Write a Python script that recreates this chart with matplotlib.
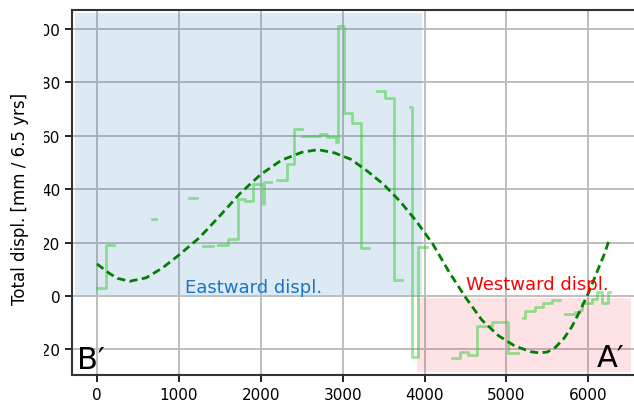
import numpy as np
import matplotlib
matplotlib.use("Agg")
import matplotlib.pyplot as plt
from matplotlib.patches import Rectangle

# step profile: each segment is (edges, levels), len(edges) = len(levels) + 1
seg_edges = [
    [0, 106, 211],
    [668, 716],
    [1127, 1225],
    [1298, 1420],
    [1481, 1603, 1718, 1810, 1908, 2023, 2035, 2120],
    [2201, 2316, 2409, 2499],
    [2507, 2723, 2812, 2925, 2940, 3016, 3117, 3220, 3325],
    [3415, 3516, 3623, 3728],
    [3822, 3850, 3923, 4033],
    [4331, 4432, 4534, 4636, 4819, 5022, 5137],
    [5205, 5226, 5348, 5450, 5552, 5653],
    [5714, 5836, 5897, 5926, 6040, 6101, 6162, 6243, 6260],
]
seg_levels = [
    [2.9, 19.2],
    [29.0],
    [36.6],
    [18.8],
    [19.2, 21.3, 36.4, 35.7, 41.9, 34.5, 42.6],
    [43.4, 49.4, 62.5],
    [59.8, 60.7, 59.4, 57.8, 101.0, 68.5, 64.9, 18.0],
    [76.7, 74.0, 6.1],
    [70.9, -23.0, 18.5],
    [-23.3, -20.9, -22.1, -11.2, -9.6, -21.2],
    [-8.4, -5.6, -4.0, -2.7, -1.6],
    [-6.9, -5.9, -5.4, -2.5, -1.2, 1.5, -2.5, 1.6],
]

# smooth trend along the profile
trend_x = [0, 150, 250, 400, 600, 800, 1000, 1250, 1500, 1750, 2000, 2250,
           2500, 2700, 2900, 3100, 3300, 3500, 3700, 3900, 4100, 4300, 4500,
           4700, 4900, 5100, 5300, 5400, 5500, 5600, 5700, 5800, 5900, 6000,
           6100, 6200, 6255]
trend_y = [12.0, 8.5, 6.6, 5.5, 6.8, 10.5, 15.3, 21.8, 30.0, 38.5, 45.5, 50.8,
           53.8, 54.8, 53.6, 51.2, 46.8, 41.8, 35.5, 28.0, 19.5, 9.0, -0.5,
           -9.0, -14.8, -18.7, -20.9, -21.3, -21.0, -19.2, -16.0, -11.5, -5.5, 1.0,
           8.5, 16.0, 21.0]

fig = plt.figure(figsize=(6.34, 4.06), dpi=100)
W, H = 634, 406
ax = fig.add_axes([72 / W, (H - 376) / H, (637 - 72) / W, (376 - 11) / H])
ax.set_xlim(-305, 6595)
ax.set_ylim(-29.6, 107.1)

ax.set_axisbelow(True)
ax.grid(True, color="#bebebe", linewidth=1.4)

ax.add_patch(Rectangle((-270, 0.5), 4245, 105.5, facecolor="#1f77b4",
                       alpha=0.15, edgecolor="none", zorder=1))
ax.add_patch(Rectangle((3903, -28.6), 2622, 28.0, facecolor="#f0283c",
                       alpha=0.13, edgecolor="none", zorder=1))

xs, ys = [], []
for edges, levels in zip(seg_edges, seg_levels):
    xs += edges + [np.nan]
    ys += levels + [levels[-1], np.nan]
ax.step(xs, ys, where="post", color="limegreen", alpha=0.5, linewidth=2,
        zorder=3)

ax.plot(trend_x, trend_y, color="green", linewidth=2, linestyle=(0, (2.9, 1.6)),
        zorder=4)

ax.text(1070, 1.4, "Eastward displ.", color="#1a75c8", fontsize=13,
        va="baseline", zorder=5)
ax.text(4505, 2.6, "Westward displ.", color="red", fontsize=13,
        va="baseline", zorder=5)
ax.text(-240, -27.0, "B\u2032", fontsize=22, va="baseline", zorder=5)
ax.text(6100, -26.2, "A\u2032", fontsize=22, va="baseline", zorder=5)

ax.set_xticks([0, 1000, 2000, 3000, 4000, 5000, 6000])
ax.set_yticks([-20, 0, 20, 40, 60, 80, 100])
ax.tick_params(labelsize=11, length=4.8, width=1.2)
for s in ax.spines.values():
    s.set_linewidth(1.5)
    s.set_color("#333333")

# left strip hides the leading digits of the y tick labels
fig.patches.append(Rectangle((0, 0), 44 / W, 1, transform=fig.transFigure,
                             facecolor="white", edgecolor="none", zorder=5))
fig.text(20.3 / W, (H - 199) / H, "Total displ. [mm / 6.5 yrs]", rotation=90,
         fontsize=12, ha="center", va="center", zorder=6)

fig.savefig("out.png", dpi=100)
